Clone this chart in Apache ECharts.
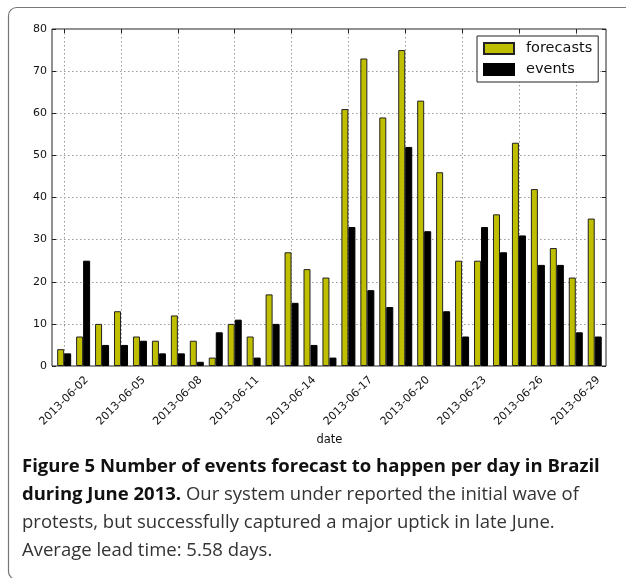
<!DOCTYPE html>
<html><head><meta charset="utf-8">
<script src="https://cdn.jsdelivr.net/npm/echarts@6/dist/echarts.min.js"></script>
<style>html,body{margin:0;padding:0;background:#fff}#c{width:626px;height:578px}</style>
</head><body><div id="c"></div>
<script>
const dates = ['2013-06-02','2013-06-03','2013-06-04','2013-06-05','2013-06-06','2013-06-07','2013-06-08','2013-06-09','2013-06-10','2013-06-11',
  '2013-06-12','2013-06-13','2013-06-14','2013-06-15','2013-06-16','2013-06-17','2013-06-18','2013-06-19','2013-06-20','2013-06-21',
  '2013-06-22','2013-06-23','2013-06-24','2013-06-25','2013-06-26','2013-06-27','2013-06-28','2013-06-29','2013-06-30'];
const forecasts = [4,7,10,13,7,6,12,6,2,10,7,17,27,23,21,61,73,59,75,63,46,25,25,36,53,42,28,21,35];
const events = [3,25,5,5,6,3,3,1,8,11,2,10,15,5,2,33,18,14,52,32,13,7,33,27,31,24,24,8,7];
const yMin = 0, yMax = 80, yStep = 10;
const seriesNames = ['forecasts','events'];
const xName = 'date';
const captionLines = [
  '{b|Figure 5 Number of events forecast to happen per day in Brazil}',
  '{b|during June 2013.} Our system under reported the initial wave of',
  'protests, but successfully captured a major uptick in late June.',
  'Average lead time: 5.58 days.'
];

const chart = echarts.init(document.getElementById('c'), null, {renderer:'canvas'});
const tickFont = {fontFamily:'DejaVu Sans', fontSize:11, color:'#111'};
const gridDot = {type:[1.5,2.5], color:'#9a9a9a', width:1};
const capY = [467, 495, 523, 551];

chart.setOption({
  animation:false,
  backgroundColor:'#fff',
  grid:[
    {left:52, right:20, top:29, bottom:212, show:true, borderColor:'#222', borderWidth:1, backgroundColor:'transparent'},
    {left:54.7, right:21.8, top:29, bottom:212}
  ],
  xAxis:[
    {gridIndex:0, type:'category', data:dates, show:false},
    {gridIndex:1, type:'category', data:dates, position:'bottom',
      axisLine:{show:false},
      axisTick:{show:true, inside:true, length:4, alignWithLabel:true, interval:2, lineStyle:{color:'#222'}},
      axisLabel:Object.assign({interval:2, rotate:45, align:'center', verticalAlign:'middle', margin:35}, tickFont),
      splitLine:{show:true, interval:2, alignWithLabel:true, lineStyle:gridDot},
      name:xName, nameLocation:'middle', nameGap:68,
      nameTextStyle:{fontFamily:'DejaVu Sans', fontSize:11.5, color:'#111'}},
    {gridIndex:1, type:'category', data:dates, position:'top',
      axisLine:{show:false},
      axisTick:{show:true, inside:true, length:4, alignWithLabel:true, interval:2, lineStyle:{color:'#222'}},
      axisLabel:{show:false}, splitLine:{show:false}}
  ],
  yAxis:[
    {gridIndex:0, type:'value', min:yMin, max:yMax, interval:yStep, position:'left',
      axisLine:{show:false},
      axisTick:{show:true, inside:true, length:4, lineStyle:{color:'#222'}},
      axisLabel:Object.assign({margin:5}, tickFont),
      splitLine:{show:true, lineStyle:gridDot}},
    {gridIndex:0, type:'value', min:yMin, max:yMax, interval:yStep, position:'right',
      axisLine:{show:false},
      axisTick:{show:true, inside:true, length:4, lineStyle:{color:'#222'}},
      axisLabel:{show:false}, splitLine:{show:false}},
    {gridIndex:1, type:'value', min:yMin, max:yMax, show:false}
  ],
  legend:{
    orient:'vertical', left:477, top:36, padding:[5,6,5,6],
    itemWidth:30, itemHeight:11, itemGap:6,
    borderColor:'#222', borderWidth:1, borderRadius:0, backgroundColor:'#fff',
    textStyle:{fontFamily:'DejaVu Sans', fontSize:14.5, color:'#111', padding:[0,0,0,7]},
    data:[{name:seriesNames[0], icon:'rect'},{name:seriesNames[1], icon:'rect'}]
  },
  series:[
    {name:seriesNames[0], type:'bar', xAxisIndex:1, yAxisIndex:2, data:forecasts,
      barWidth:7, barGap:'0%',
      itemStyle:{color:'#bfbf00', borderColor:'#222', borderWidth:1}},
    {name:seriesNames[1], type:'bar', xAxisIndex:1, yAxisIndex:2, data:events,
      barWidth:7, barGap:'0%',
      itemStyle:{color:'#000', borderColor:'#000', borderWidth:1}}
  ],
  graphic:[
    {type:'rect', silent:true, z:100, shape:{x:8.5, y:7.5, width:700, height:572, r:8},
      style:{fill:null, stroke:'#777', lineWidth:1.2}}
  ].concat(captionLines.map((t,i)=>({
    type:'text', silent:true, x:22, y:capY[i],
    style:{text:t, fontFamily:'"Open Sans"', fontSize:18.5, fill:'#333', verticalAlign:'middle',
      rich:{b:{fontFamily:'"Open Sans"', fontSize:18.5, fontWeight:'bold', fill:'#111'}}}
  })))
});
</script></body></html>
